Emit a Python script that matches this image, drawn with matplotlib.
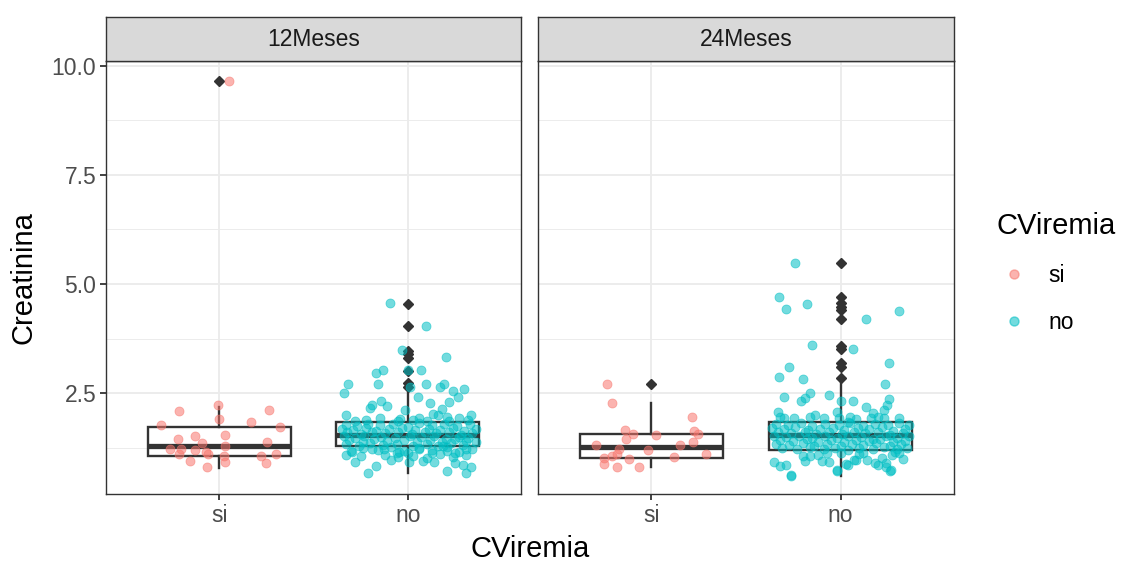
import matplotlib.pyplot as plt
from matplotlib.lines import Line2D

# colours (ggplot defaults)
col_si = '#F8766D'
col_no = '#00BFC4'

panels = ['12Meses', '24Meses']
groups = ['si', 'no']

# ---- 12Meses, si : jitter offset / creatinina
m12_si_jit = [0.05, -0.215, -0.005, 0.265, -0.31, 0.0, 0.17, 0.32, -0.13, 0.03, -0.22, -0.09, 0.255, -0.26,
              -0.2, -0.13, -0.07, 0.03, -0.06, -0.215, 0.026, 0.22, 0.30, -0.155, 0.03, 0.25, -0.065]
m12_si_val = [9.65, 2.10, 2.22, 2.12, 1.76, 1.91, 1.83, 1.72, 1.51, 1.54, 1.44, 1.35, 1.39, 1.23,
              1.23, 1.20, 1.15, 1.30, 1.10, 1.10, 1.05, 1.06, 1.11, 0.95, 0.93, 0.89, 0.80]

# ---- 12Meses, no
m12_no_jit = [-0.097, 0.097, -0.033, 0.20, -0.17, -0.13, 0.0, 0.069, -0.316, -0.157, -0.34, 0.014, 0.097, 0.17,
              0.19, 0.24, 0.30, 0.266, 0.053, -0.19, -0.2, -0.14, -0.11, 0.12, 0.217, 0.18, -0.016, -0.33,
              0.337, 0.134, 0.16, 0.208, 0.058, 0.27, -0.145, -0.04,
              -0.28, -0.22, -0.05, 0.03, 0.1, 0.22, 0.32,
              -0.33, -0.27, -0.21, -0.15, -0.08, 0.0, 0.06, 0.13, 0.19, 0.26, 0.33,
              -0.35, -0.29, -0.22, -0.17, -0.1, -0.03, 0.04, 0.11, 0.17, 0.24, 0.30, 0.36,
              -0.32, -0.25, -0.19, -0.12, -0.05, 0.02, 0.09, 0.15, 0.22, 0.28, 0.34,
              -0.34, -0.28, -0.23, -0.14, -0.07, 0.01, 0.07, 0.14, 0.2, 0.27, 0.32,
              -0.31, -0.24, -0.18, -0.11, -0.02, 0.05, 0.12, 0.18, 0.25, 0.31, 0.36,
              -0.33, -0.26, -0.2, -0.13, -0.06, 0.03, 0.1, 0.16, 0.23, 0.29,
              -0.3, -0.24, -0.16, -0.09, -0.02, 0.06, 0.13, 0.21, 0.27, 0.34,
              -0.33, -0.25, -0.12, -0.05, 0.03, 0.1, 0.17, 0.24, 0.31,
              -0.28, -0.17, -0.21, -0.09, 0.005, 0.08, 0.14, 0.208, 0.25, 0.29, 0.31, 0.337,
              -0.048, -0.295, -0.19, -0.127, 0.129, 0.21, 0.25, 0.31, 0.185, 0.058, 0.0, -0.06]
m12_no_val = [4.56, 4.05, 3.48, 3.32, 2.97, 3.03, 3.02, 3.02, 2.71, 2.71, 2.51, 2.64, 2.71, 2.64,
              2.71, 2.54, 2.59, 2.42, 2.42, 2.23, 2.16, 2.31, 2.21, 2.27, 2.29, 2.13, 2.12, 2.00,
              1.99, 2.02, 2.01, 1.96, 1.93, 1.93, 1.93, 1.90,
              1.87, 1.88, 1.86, 1.89, 1.87, 1.86, 1.88,
              1.78, 1.74, 1.80, 1.76, 1.79, 1.73, 1.81, 1.77, 1.80, 1.75, 1.79,
              1.69, 1.66, 1.71, 1.64, 1.68, 1.70, 1.65, 1.69, 1.66, 1.71, 1.63, 1.68,
              1.60, 1.57, 1.62, 1.58, 1.60, 1.56, 1.61, 1.58, 1.60, 1.55, 1.59,
              1.51, 1.48, 1.53, 1.50, 1.47, 1.52, 1.49, 1.53, 1.46, 1.50, 1.47,
              1.42, 1.39, 1.44, 1.40, 1.43, 1.38, 1.42, 1.39, 1.44, 1.40, 1.37,
              1.33, 1.30, 1.35, 1.31, 1.34, 1.29, 1.33, 1.30, 1.35, 1.31,
              1.18, 1.25, 1.20, 1.26, 1.17, 1.24, 1.19, 1.26, 1.16, 1.23,
              1.08, 1.05, 1.09, 1.03, 1.07, 1.02, 1.10, 1.04, 1.08,
              0.93, 0.84, 0.68, 0.96, 0.93, 0.95, 0.93, 0.72, 0.91, 0.86, 0.68, 0.82,
              1.16, 1.16, 1.22, 1.22, 1.12, 1.18, 1.12, 1.22, 1.29, 1.22, 1.12, 1.12]

# ---- 24Meses, si
m24_si_jit = [-0.237, -0.21, 0.214, -0.142, -0.096, -0.133, 0.026, 0.226, 0.244, 0.22, 0.149, -0.295,
              -0.02, -0.17, -0.184, -0.21, -0.25, -0.12, 0.12, 0.29, -0.25, -0.18, -0.067]
m24_si_val = [2.71, 2.28, 1.96, 1.66, 1.57, 1.45, 1.54, 1.64, 1.57, 1.37, 1.32, 1.32,
              1.19, 1.22, 1.11, 1.05, 1.01, 0.99, 1.03, 1.10, 0.87, 0.80, 0.80]

# ---- 24Meses, no
m24_no_jit = [-0.242, -0.325, -0.29, -0.18, 0.135, 0.307, -0.15, 0.065, -0.27, 0.254, -0.326, -0.2,
              0.237, -0.163, -0.19, -0.207, -0.3, -0.063, 0.0, 0.065, 0.258, 0.244, 0.23, 0.135,
              0.17, -0.333, -0.32, -0.3, -0.246, -0.137, -0.163, -0.02, -0.01, -0.09, 0.05, 0.08,
              0.16, 0.2, 0.23, 0.31, 0.04,
              -0.34, -0.28, -0.21, -0.15, -0.08, -0.01, 0.05, 0.12, 0.18, 0.25, 0.31, 0.36,
              -0.36, -0.3, -0.24, -0.17, -0.11, -0.04, 0.02, 0.09, 0.15, 0.22, 0.28, 0.34,
              -0.33, -0.26, -0.19, -0.13, -0.06, 0.01, 0.07, 0.13, 0.2, 0.26, 0.33,
              -0.35, -0.29, -0.22, -0.15, -0.08, -0.02, 0.04, 0.11, 0.17, 0.24, 0.3, 0.36,
              -0.32, -0.25, -0.18, -0.12, -0.05, 0.02, 0.08, 0.15, 0.21, 0.28, 0.34,
              -0.34, -0.27, -0.2, -0.14, -0.07, 0.0, 0.06, 0.12, 0.19, 0.26, 0.32,
              -0.31, -0.23, -0.16, -0.09, -0.03, 0.04, 0.1, 0.17, 0.23, 0.3, 0.35,
              -0.35, -0.32, -0.29, -0.26, -0.2, -0.16, -0.12, -0.07, -0.19, -0.1, -0.06, -0.02,
              0.0, 0.03, 0.07, 0.1, 0.14, 0.18, 0.2, 0.24, 0.26, 0.22, 0.27, 0.31, 0.12,
              -0.26, -0.02, 0.267, 0.24, 0.04, 0.084, 0.33, 0.29]
m24_no_val = [5.49, 4.71, 4.43, 4.54, 4.20, 4.39, 3.61, 3.51, 3.11, 3.20, 2.86, 2.82,
              2.71, 2.51, 2.40, 2.31, 2.42, 2.45, 2.32, 2.31, 2.36, 2.23, 2.12, 2.19,
              2.04, 2.06, 1.96, 1.93, 1.93, 2.00, 1.96, 2.08, 1.93, 1.93, 1.96, 1.91,
              1.93, 1.96, 1.92, 1.93, 1.85,
              1.79, 1.76, 1.81, 1.75, 1.80, 1.77, 1.82, 1.74, 1.79, 1.76, 1.81, 1.78,
              1.70, 1.67, 1.72, 1.66, 1.69, 1.71, 1.65, 1.70, 1.67, 1.72, 1.64, 1.69,
              1.61, 1.58, 1.62, 1.57, 1.60, 1.56, 1.61, 1.58, 1.62, 1.55, 1.59,
              1.52, 1.49, 1.53, 1.48, 1.51, 1.47, 1.52, 1.50, 1.46, 1.51, 1.48, 1.53,
              1.43, 1.40, 1.44, 1.39, 1.42, 1.38, 1.43, 1.40, 1.44, 1.39, 1.41,
              1.34, 1.31, 1.35, 1.30, 1.33, 1.29, 1.34, 1.31, 1.35, 1.30, 1.33,
              1.25, 1.22, 1.26, 1.21, 1.24, 1.20, 1.25, 1.22, 1.26, 1.21, 1.24,
              0.93, 0.84, 0.86, 0.63, 1.05, 1.07, 1.08, 1.12, 0.95, 0.95, 0.92, 0.72,
              1.12, 0.87, 0.96, 1.11, 0.97, 0.91, 0.85, 0.91, 0.71, 1.02, 1.08, 1.12, 1.12,
              0.61, 0.73, 0.73, 0.80, 0.85, 0.97, 1.00, 1.15]

# box statistics: q1, median, q3, lower whisker, upper whisker
m12_si_box = [1.07, 1.28, 1.73, 0.78, 2.19]
m12_no_box = [1.28, 1.54, 1.83, 0.68, 2.50]
m24_si_box = [1.01, 1.26, 1.57, 0.80, 2.27]
m24_no_box = [1.20, 1.54, 1.83, 0.60, 2.77]

m12_si_out = [9.66]
m12_no_out = [4.55, 4.04, 3.47, 3.39, 3.30, 3.01, 2.73, 2.64]
m24_si_out = [2.71]
m24_no_out = [5.49, 4.71, 4.56, 4.47, 4.41, 4.20, 3.57, 3.51, 3.19, 3.11, 2.84]

points = {
    '12Meses': [(m12_si_jit, m12_si_val), (m12_no_jit, m12_no_val)],
    '24Meses': [(m24_si_jit, m24_si_val), (m24_no_jit, m24_no_val)],
}
boxes = {
    '12Meses': [(m12_si_box, m12_si_out), (m12_no_box, m12_no_out)],
    '24Meses': [(m24_si_box, m24_si_out), (m24_no_box, m24_no_out)],
}

plt.rcParams['font.family'] = ['Liberation Sans', 'DejaVu Sans']

W, H = 1123, 563
fig = plt.figure(figsize=(W / 100, H / 100), dpi=100)

dark = '#333333'
grid_col = '#EBEBEB'
panel_x = [(106, 521), (538, 954)]
top, bottom, strip_top = 61, 494, 17

for k, name in enumerate(panels):
    x0, x1 = panel_x[k]
    ax = fig.add_axes([x0 / W, 1 - bottom / H, (x1 - x0) / W, (bottom - top) / H])

    stats = []
    for (b, out) in boxes[name]:
        stats.append(dict(q1=b[0], med=b[1], q3=b[2], whislo=b[3], whishi=b[4], fliers=out))
    ax.bxp(stats, positions=[1, 2], widths=0.76, showcaps=False, patch_artist=True,
           manage_ticks=False,
           boxprops=dict(facecolor='white', edgecolor=dark, lw=1.7),
           medianprops=dict(color=dark, lw=3.8, solid_capstyle='butt'),
           whiskerprops=dict(color=dark, lw=1.7),
           flierprops=dict(marker='D', markersize=5.5, markerfacecolor=dark, markeredgecolor=dark),
           zorder=2)

    for g, (jit, val) in enumerate(points[name]):
        c = col_si if g == 0 else col_no
        xs = [g + 1 + j for j in jit]
        ax.scatter(xs, val, s=42, color=c, alpha=0.55, edgecolors=c, linewidths=0.6, zorder=3)

    ax.set_xlim(0.4, 2.6)
    ax.set_ylim(0.19, 10.11)
    ax.set_yticks([2.5, 5.0, 7.5, 10.0])
    ax.set_yticks([1.25, 3.75, 6.25, 8.75], minor=True)
    ax.set_xticks([1, 2])
    ax.set_xticklabels(groups)
    ax.grid(True, which='major', color=grid_col, lw=1.3, zorder=0)
    ax.grid(True, which='minor', axis='y', color=grid_col, lw=0.65, zorder=0)
    ax.set_axisbelow(True)
    for sp in ax.spines.values():
        sp.set_color(dark)
        sp.set_linewidth(1.0)
    ax.tick_params(which='major', length=4, width=1.3, color=dark, labelsize=16.5,
                   labelcolor='#4D4D4D', pad=3)
    ax.tick_params(which='minor', length=0)
    if k == 0:
        ax.set_yticklabels(['2.5', '5.0', '7.5', '10.0'])
        ax.set_ylabel('Creatinina', fontsize=21, labelpad=10)
    else:
        ax.tick_params(axis='y', which='both', left=False, labelleft=False)

    # strip
    sax = fig.add_axes([x0 / W, 1 - top / H, (x1 - x0) / W, (top - strip_top) / H])
    sax.set_facecolor('#D9D9D9')
    sax.set_xticks([])
    sax.set_yticks([])
    for sp in sax.spines.values():
        sp.set_color(dark)
        sp.set_linewidth(1.0)
    sax.text(0.5, 0.5, name, ha='center', va='center', fontsize=16.5, color='#1A1A1A',
             transform=sax.transAxes)

fig.text(530 / W, 1 - 549 / H, 'CViremia', ha='center', va='center', fontsize=21)

handles = [Line2D([], [], ls='', marker='o', markersize=6.5, color=col_si, alpha=0.55),
           Line2D([], [], ls='', marker='o', markersize=6.5, color=col_no, alpha=0.55)]
leg = fig.legend(handles, groups, title='CViremia', loc='upper left',
                 bbox_to_anchor=(996 / W, 1 - 212 / H), frameon=False, fontsize=16.5,
                 title_fontsize=21, labelspacing=1.05, handletextpad=0.7, alignment='left',
                 borderaxespad=0, borderpad=0, handlelength=1.6)

fig.savefig('out.png', dpi=100)
